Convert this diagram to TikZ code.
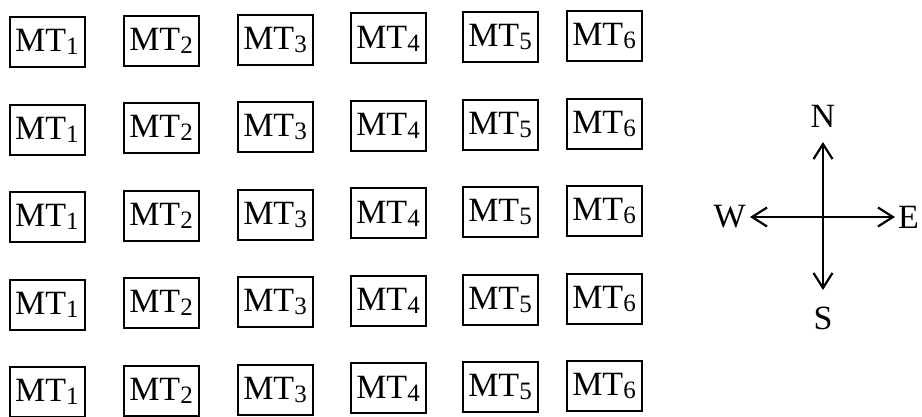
\documentclass[tikz,border=0pt]{standalone}
\usepackage{fontspec}
\setmainfont{Liberation Serif}
\usetikzlibrary{arrows.meta}
\newcommand\mtsub[1]{\raisebox{-3pt}{\fontsize{25}{30}\selectfont #1}}
\tikzset{
  mtbox/.style={draw, line width=2pt, minimum width=75pt, minimum height=50pt, inner sep=0pt,
    font=\fontsize{34}{40}\selectfont},
  compass/.style={line width=2.2pt, {Straight Barb[length=15pt,width=19pt,line width=2.2pt]}-{Straight Barb[length=15pt,width=19pt,line width=2.2pt]}},
  dirlabel/.style={font=\fontsize{34}{40}\selectfont, inner sep=0pt}
}
\begin{document}
\begin{tikzpicture}[x=1pt,y=-1pt]
\useasboundingbox (0,0) rectangle (922,416);
\foreach \r/\ry in {1/42,2/129.5,3/217,4/304.5,5/392}{
  \foreach \c/\cx in {1/47,2/161,3/275,4/388,5/500,6/604}{
    \node[mtbox] (mt\r\c) at (\cx,{\ry-1.2*(\c-1)}) {MT\mtsub{\c}};
  }
}
\coordinate (ctr) at (823,217);
\coordinate (nn) at (823,142);
\coordinate (ss) at (823,290);
\coordinate (ww) at (750,217);
\coordinate (ee) at (895,217);
\draw[compass] (ss) -- (nn);
\draw[compass] (ww) -- (ee);
\node[dirlabel] (N) at (823,116) {N};
\node[dirlabel] (S) at (823,318) {S};
\node[dirlabel, anchor=east] (W) at (746,217) {W};
\node[dirlabel, anchor=west] (E) at (898,217) {E};
\end{tikzpicture}
\end{document}
